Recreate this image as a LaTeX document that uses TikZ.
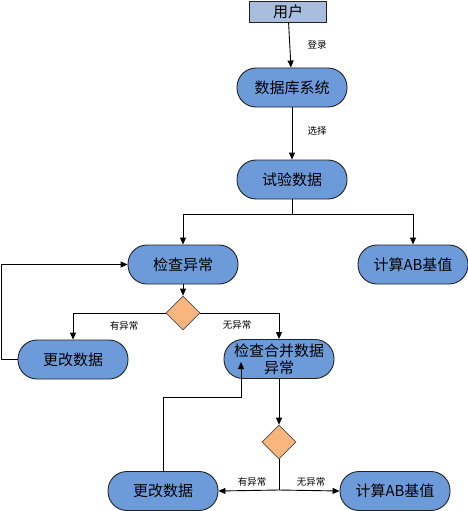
\documentclass[tikz,border=0pt]{standalone}
\usepackage{fontspec}
\setmainfont{Noto Sans CJK SC}
\usetikzlibrary{shapes.geometric,arrows.meta}
\definecolor{pillfill}{HTML}{6D9BD9}
\definecolor{userfill}{HTML}{A9BEDC}
\definecolor{diafill}{HTML}{F8B57E}
\definecolor{edgegray}{HTML}{222222}
\tikzset{
  pill/.style={draw=edgegray,line width=0.9pt,fill=pillfill,rounded corners=19pt,minimum width=110pt,minimum height=39pt,inner sep=0pt,align=center,font=\fontsize{15}{17}\selectfont},
  userbox/.style={draw=edgegray,line width=0.9pt,fill=userfill,minimum width=77pt,minimum height=21pt,inner sep=0pt,font=\fontsize{15}{17}\selectfont},
  dia/.style={diamond,draw=black!70,line width=0.6pt,fill=diafill,minimum width=34pt,minimum height=34pt,inner sep=0pt,aspect=1},
  lbl/.style={inner sep=0pt,font=\fontsize{9.5}{11}\selectfont},
  conn/.style={draw=black,line width=0.9pt},
  arr/.style={conn,-{Triangle[length=7pt,width=6pt]}}
}
\begin{document}
\begin{tikzpicture}[x=1pt,y=-1pt]
\path[use as bounding box,fill=white] (0,0) rectangle (468,511);
\node[userbox] (yh) at (288,11.5) {用户};
\node[pill] (db) at (292,87.5) {数据库系统};
\node[pill] (sy) at (292,179.5) {试验数据};
\node[pill] (jc) at (183,264.5) {检查异常};
\node[pill] (ab1) at (413,264.5) {计算AB基值};
\node[dia] (d1) at (183,313) {};
\node[pill] (gg1) at (73,359.5) {更改数据};
\node[pill] (hb) at (279,359) {检查合并数据\\异常};
\node[dia] (d2) at (279,442) {};
\node[pill] (gg2) at (163,491) {更改数据};
\node[pill] (ab2) at (395,491) {计算AB基值};

\node[lbl] (t1) at (317,45) {登录};
\node[lbl] (t2) at (317,131) {选择};
\node[lbl] (t3) at (124,326) {有异常};
\node[lbl] (t4) at (237,325) {无异常};
\node[lbl] (t5) at (252,482) {有异常};
\node[lbl] (t6) at (311,482) {无异常};

\coordinate (s1) at (292,214);
\coordinate (j2) at (279,490);
\coordinate (l1) at (1,359.5);
\coordinate (l2) at (241,397);
\coordinate (l3) at (241,362);

\draw[arr] (yh) -- (db);
\draw[arr] (db) -- (sy);
\draw[conn] (sy) -- (s1);
\draw[arr] (s1) -| (jc.north);
\draw[arr] (s1) -| (ab1.north);
\draw[arr] (jc) -- (d1);
\draw[arr] (d1.west) -| (gg1.north);
\draw[arr] (d1.east) -| (hb.north);
\draw[arr] (gg1.west) -- (l1) |- (jc.west);
\draw[arr] (hb) -- (d2);
\draw[conn] (d2.south) -- (j2);
\draw[arr] (j2) -- (gg2.east);
\draw[arr] (j2) -- (ab2.west);
\draw[arr] (gg2.north) |- (l2) -- (l3);
\end{tikzpicture}
\end{document}
